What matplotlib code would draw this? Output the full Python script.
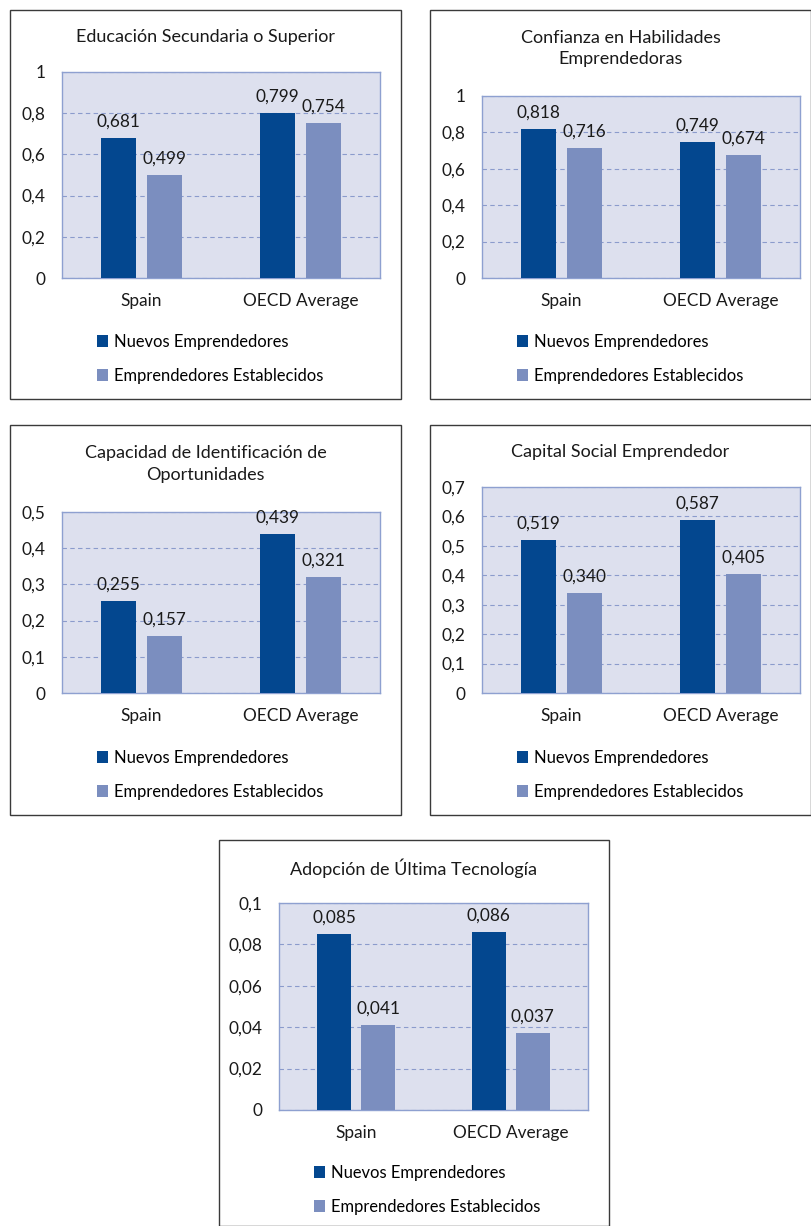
import matplotlib
matplotlib.use("Agg")
import matplotlib.pyplot as plt
from matplotlib.patches import Patch, Rectangle
from matplotlib.ticker import FixedLocator, FixedFormatter

plt.rcParams['font.family'] = ['Lato', 'DejaVu Sans']

W, H = 812, 1226
DARK = '#03478f'
LIGHT = '#7b8ebf'
BG = '#dde0ee'
GRID = '#8b9bcc'
SPINE = '#8ea0d0'

categories = ['Spain', 'OECD Average']
series_names = ['Nuevos Emprendedores', 'Emprendedores Establecidos']

titles = [
    'Educación Secundaria o Superior',
    'Confianza en Habilidades\nEmprendedoras',
    'Capacidad de Identificación de\nOportunidades',
    'Capital Social Emprendedor',
    'Adopción de Última Tecnología',
]

nuevos = [
    [0.681, 0.799],
    [0.818, 0.749],
    [0.255, 0.439],
    [0.519, 0.587],
    [0.085, 0.086],
]
establecidos = [
    [0.499, 0.754],
    [0.716, 0.674],
    [0.157, 0.321],
    [0.340, 0.405],
    [0.041, 0.037],
]
value_labels_nuevos = [
    ['0,681', '0,799'], ['0,818', '0,749'], ['0,255', '0,439'],
    ['0,519', '0,587'], ['0,085', '0,086'],
]
value_labels_establecidos = [
    ['0,499', '0,754'], ['0,716', '0,674'], ['0,157', '0,321'],
    ['0,340', '0,405'], ['0,041', '0,037'],
]

ytick_values = [
    [0, 0.2, 0.4, 0.6, 0.8, 1.0],
    [0, 0.2, 0.4, 0.6, 0.8, 1.0],
    [0, 0.1, 0.2, 0.3, 0.4, 0.5],
    [0, 0.1, 0.2, 0.3, 0.4, 0.5, 0.6, 0.7],
    [0, 0.02, 0.04, 0.06, 0.08, 0.1],
]
ytick_labels = [
    ['0', '0,2', '0,4', '0,6', '0,8', '1'],
    ['0', '0,2', '0,4', '0,6', '0,8', '1'],
    ['0', '0,1', '0,2', '0,3', '0,4', '0,5'],
    ['0', '0,1', '0,2', '0,3', '0,4', '0,5', '0,6', '0,7'],
    ['0', '0,02', '0,04', '0,06', '0,08', '0,1'],
]

# layout in pixels: (box x0, y0, x1, y1), (axes x0, y_top, x1, y_bottom), title y, legend top y
panels = [
    ((10, 10, 401, 399), (62, 72, 380, 278), 37, 327),
    ((430, 10, 811, 399), (482, 96, 800, 278), 48.5, 327),
    ((10, 425, 401, 815), (62, 512, 380, 693), 464, 743),
    ((430, 425, 811, 815), (482, 487, 800, 693), 452, 743),
    ((219, 840, 609, 1226), (279, 903, 588, 1110), 868, 1158),
]

fig = plt.figure(figsize=(W / 100, H / 100), dpi=100)
fig.patch.set_facecolor('white')

def fx(px):
    return px / W

def fy(py):
    return 1 - py / H

FS = 12.4
LFS = 11.9
bw = 0.22
off = 0.143

for i, (box, ax_px, ty, ly) in enumerate(panels):
    bx0, by0, bx1, by1 = box
    fig.add_artist(Rectangle((fx(bx0), fy(by1)), fx(bx1 - bx0), (by1 - by0) / H,
                             transform=fig.transFigure, fill=False,
                             edgecolor='#3a3a3a', linewidth=1.0))
    ax0, atop, ax1, abot = ax_px
    ax = fig.add_axes([fx(ax0), fy(abot), fx(ax1 - ax0), (abot - atop) / H])
    ax.set_facecolor(BG)
    x = list(range(len(categories)))
    b1 = ax.bar([v - off for v in x], nuevos[i], width=bw, color=DARK, zorder=3)
    b2 = ax.bar([v + off for v in x], establecidos[i], width=bw, color=LIGHT, zorder=3)
    ax.bar_label(b1, labels=value_labels_nuevos[i], padding=6, fontsize=FS, color='#1a1a1a')
    ax.bar_label(b2, labels=value_labels_establecidos[i], padding=6, fontsize=FS, color='#1a1a1a')
    ax.set_xlim(-0.5, 1.5)
    ax.set_ylim(0, ytick_values[i][-1])
    ax.yaxis.set_major_locator(FixedLocator(ytick_values[i]))
    ax.yaxis.set_major_formatter(FixedFormatter(ytick_labels[i]))
    ax.set_xticks(x)
    ax.set_xticklabels(categories)
    ax.tick_params(axis='both', length=0, labelsize=FS, colors='#1a1a1a')
    ax.tick_params(axis='y', pad=12)
    ax.tick_params(axis='x', pad=10.5)
    ax.grid(axis='y', color=GRID, linestyle=(0, (4, 3)), linewidth=0.8, zorder=1)
    for s in ax.spines.values():
        s.set_color(SPINE)
        s.set_linewidth(1.0)
    fig.text(fx((bx0 + bx1) / 2), fy(ty), titles[i], ha='center', va='center',
             fontsize=FS + 0.6, color='#1a1a1a', linespacing=1.4)
    handles = [Patch(facecolor=DARK), Patch(facecolor=LIGHT)]
    fig.legend(handles, series_names, loc='upper left',
               bbox_to_anchor=(fx(ax0 + 28), fy(ly)), frameon=False,
               fontsize=LFS, handlelength=0.7, handleheight=0.7,
               handletextpad=0.35, labelspacing=1.1, borderaxespad=0)

fig.savefig('out.png', dpi=100)
